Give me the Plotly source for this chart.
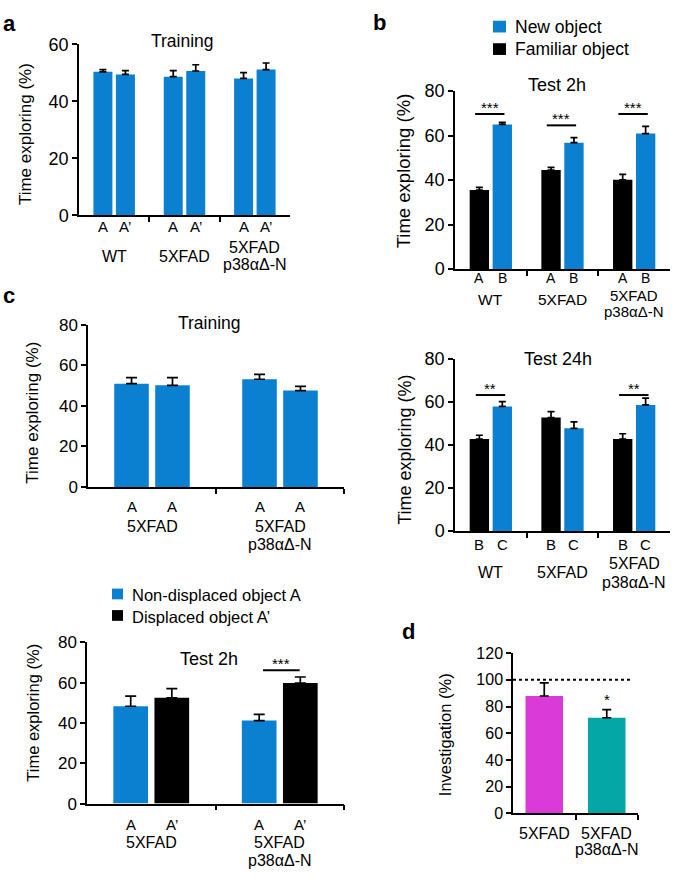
import plotly.graph_objects as go

# ---------------- data ----------------
# panel a (Training, object location)
a_groups = ["WT", "5XFAD", "5XFAD<br>p38αΔ-N"]
a_bar_labels = ["A", "A’"]
a_A = [50.3, 48.6, 48.0]
a_A_err = [0.8, 2.1, 2.0]
a_Ap = [49.4, 50.6, 51.1]
a_Ap_err = [1.3, 2.2, 2.3]

# panel b (Test 2h)
b2_groups = ["WT", "5XFAD", "5XFAD<br>p38αΔ-N"]
b2_bar_labels = ["A", "B"]
b2_familiar = [35.5, 44.5, 40.1]
b2_familiar_err = [1.2, 1.2, 2.5]
b2_new = [65.0, 56.8, 60.9]
b2_new_err = [0.9, 2.3, 3.2]
b2_sig = ["***", "***", "***"]
b2_sig_y = [69.7, 64.6, 69.7]

# panel b (Test 24h)
b24_groups = ["WT", "5XFAD", "5XFAD<br>p38αΔ-N"]
b24_bar_labels = ["B", "C"]
b24_familiar = [42.7, 52.7, 42.7]
b24_familiar_err = [1.8, 2.8, 2.5]
b24_new = [57.9, 47.7, 58.6]
b24_new_err = [2.2, 3.0, 3.2]
b24_sig = ["**", "", "**"]
b24_sig_y = [63.2, None, 63.2]

# panel c (Training)
ct_groups = ["5XFAD", "5XFAD<br>p38αΔ-N"]
ct_bar_labels = ["A", "A"]
ct_first = [50.9, 53.1]
ct_first_err = [3.0, 2.4]
ct_second = [50.1, 47.5]
ct_second_err = [3.8, 2.1]

# panel c (Test 2h)
cs_groups = ["5XFAD", "5XFAD<br>p38αΔ-N"]
cs_bar_labels = ["A", "A’"]
cs_nondisplaced = [48.3, 41.2]
cs_nondisplaced_err = [5.0, 3.1]
cs_displaced = [52.5, 59.8]
cs_displaced_err = [4.5, 3.0]
cs_sig = ["", "***"]
cs_sig_y = [None, 66.1]

# panel d
d_groups = ["5XFAD", "5XFAD<br>p38αΔ-N"]
d_values = [87.9, 71.6]
d_err = [9.8, 6.1]
d_sig = ["", "*"]
d_reference = 100

# ---------------- style ----------------
W, H = 685, 883
FONT = "Liberation Sans, Arial, Helvetica, sans-serif"
BLUE = "#0b80d0"
BLACK = "#000000"
MAGENTA = "#d93ad8"
TEAL = "#05a6a6"

def X(px):
    return px / W

def Y(py):
    return 1 - py / H

fig = go.Figure()
annotations = []
shapes = []

OFF = 0.16
BW = 0.27


def add_axes(n, xpx, ypx, xrange, yrange, ytickvals, xtickvals, tickfont):
    xa = "xaxis" if n == 1 else f"xaxis{n}"
    ya = "yaxis" if n == 1 else f"yaxis{n}"
    xid = "x" if n == 1 else f"x{n}"
    yid = "y" if n == 1 else f"y{n}"
    fig.update_layout(**{
        xa: dict(domain=[X(xpx[0]), X(xpx[1])], range=xrange, anchor=yid,
                 showline=True, linecolor="black", linewidth=1.5,
                 ticks="outside", ticklen=5, tickwidth=1.5, tickcolor="black",
                 tickvals=xtickvals, showticklabels=False, showgrid=False,
                 zeroline=False, fixedrange=True),
        ya: dict(domain=[Y(ypx[1]), Y(ypx[0])], range=yrange, anchor=xid,
                 showline=True, linecolor="black", linewidth=1.5,
                 ticks="outside", ticklen=5, tickwidth=1.5, tickcolor="black",
                 tickvals=ytickvals, showgrid=False, zeroline=False,
                 tickfont=dict(family=FONT, size=tickfont, color="black"),
                 fixedrange=True),
    })
    return xid, yid


def bar(xid, yid, xs, ys, errs, color, name, width=BW, capw=3.5):
    fig.add_trace(go.Bar(
        x=xs, y=ys, width=width, marker=dict(color=color, line=dict(width=0)),
        error_y=dict(type="data", array=errs, arrayminus=[0] * len(errs),
                     symmetric=False, color="black", thickness=1.7, width=capw),
        xaxis=xid, yaxis=yid, name=name, showlegend=False))


def text(x, y, t, size, xref="paper", yref="paper", xanchor="center",
         yanchor="middle", angle=0, bold=False, align="center"):
    annotations.append(dict(
        x=x, y=y, xref=xref, yref=yref, text=f"<b>{t}</b>" if bold else t,
        showarrow=False, xanchor=xanchor, yanchor=yanchor, textangle=angle,
        align=align, font=dict(family=FONT, size=size, color="black")))


def group_name(xid, g, name, y_center, spacing, size, centered):
    lines = name.split("<br>")
    first = y_center - (len(lines) - 1) * spacing / 2 if centered else y_center
    for i, ln in enumerate(lines):
        text(g, Y(first + i * spacing), ln, size, xref=xid)


def grouped_labels(xid, groups, bar_labels, lab_y, grp_y, lab_size, grp_size,
                   spacing=17, centered=True):
    for g, gname in enumerate(groups):
        text(g - OFF, Y(lab_y), bar_labels[0], lab_size, xref=xid)
        text(g + OFF, Y(lab_y), bar_labels[1], lab_size, xref=xid)
        group_name(xid, g, gname, grp_y, spacing, grp_size, centered)


def sig_lines(xid, yid, sigs, ys, lo, hi, star_size=15):
    for g, (s, yv) in enumerate(zip(sigs, ys)):
        if not s:
            continue
        shapes.append(dict(type="line", xref=xid, yref=yid, x0=g + lo, x1=g + hi,
                           y0=yv, y1=yv, line=dict(color="black", width=2)))
        annotations.append(dict(x=g + (lo + hi) / 2, y=yv, xref=xid, yref=yid,
                                text=s, showarrow=False, yanchor="bottom", yshift=-4,
                                font=dict(family=FONT, size=star_size, color="black")))


# ---- panel a ----
xa, ya = add_axes(1, (79, 290), (35, 210), [-0.5, 2.5], [0, 60], [0, 20, 40, 60], [0.5, 1.5], 18)
gi = list(range(len(a_groups)))
bar(xa, ya, [g - OFF for g in gi], a_A, a_A_err, BLUE, "A")
bar(xa, ya, [g + OFF for g in gi], a_Ap, a_Ap_err, BLUE, "A’")
grouped_labels(xa, a_groups, a_bar_labels, 222, 252, 15, 16, spacing=17)
text(X(183), Y(32), "Training", 17.5)
text(X(25), Y(127), "Time exploring (%)", 17, angle=-90)
text(X(1), Y(14), "a", 22, xanchor="left", bold=True)

# ---- panel b Test 2h ----
xb, yb = add_axes(2, (455, 670), (83, 265), [-0.5, 2.5], [0, 80], [0, 20, 40, 60, 80], [0.5, 1.5], 18)
gi = list(range(len(b2_groups)))
bar(xb, yb, [g - OFF for g in gi], b2_familiar, b2_familiar_err, BLACK, "Familiar object")
bar(xb, yb, [g + OFF for g in gi], b2_new, b2_new_err, BLUE, "New object")
sig_lines(xb, yb, b2_sig, b2_sig_y, -0.22, 0.19)
for g, gname in enumerate(b2_groups):
    text(g - OFF, Y(274), b2_bar_labels[0], 14, xref=xb)
    text(g + OFF, Y(274), b2_bar_labels[1], 14, xref=xb)
    if "<br>" in gname:
        group_name(xb, g, gname, 292, 16, 15, centered=False)
    else:
        text(g, Y(296), gname, 15.5, xref=xb)
text(X(557), Y(77), "Test 2h", 18)
text(X(403), Y(165), "Time exploring (%)", 18.5, angle=-90)
text(X(371), Y(13), "b", 22, xanchor="left", bold=True)

# legend b
shapes.append(dict(type="rect", xref="paper", yref="paper", x0=X(493), x1=X(506),
                   y0=Y(23), y1=Y(11), fillcolor=BLUE, line=dict(width=0)))
shapes.append(dict(type="rect", xref="paper", yref="paper", x0=X(493), x1=X(506),
                   y0=Y(46), y1=Y(34), fillcolor=BLACK, line=dict(width=0)))
text(X(513), Y(17), "New object", 17.5, xanchor="left")
text(X(513), Y(40), "Familiar object", 17.5, xanchor="left")

# ---- panel c Training ----
xc, yc = add_axes(3, (88, 344), (322, 488), [-0.5, 1.5], [0, 80], [0, 20, 40, 60, 80], [0.5, 1.5], 17)
gi = list(range(len(ct_groups)))
bar(xc, yc, [g - OFF for g in gi], ct_first, ct_first_err, BLUE, "A", capw=5.5)
bar(xc, yc, [g + OFF for g in gi], ct_second, ct_second_err, BLUE, "A", capw=5.5)
grouped_labels(xc, ct_groups, ct_bar_labels, 508, 528, 15, 16, spacing=19, centered=False)
text(X(209), Y(320), "Training", 17.5)
text(X(33), Y(412), "Time exploring (%)", 17, angle=-90)
text(X(1), Y(292), "c", 22, xanchor="left", bold=True)

# ---- panel b Test 24h ----
xd, yd = add_axes(4, (455, 670), (357, 533), [-0.5, 2.5], [0, 80], [0, 20, 40, 60, 80], [0.5, 1.5], 18)
gi = list(range(len(b24_groups)))
bar(xd, yd, [g - OFF for g in gi], b24_familiar, b24_familiar_err, BLACK, "Familiar object")
bar(xd, yd, [g + OFF for g in gi], b24_new, b24_new_err, BLUE, "New object")
sig_lines(xd, yd, b24_sig, b24_sig_y, -0.21, 0.2)
grouped_labels(xd, b24_groups, b24_bar_labels, 547, 576, 15, 16, spacing=19)
text(X(558), Y(357), "Test 24h", 18)
text(X(405), Y(450), "Time exploring (%)", 18, angle=-90)

# ---- panel c Test 2h ----
xe, ye = add_axes(5, (87, 344), (647, 812), [-0.5, 1.5], [0, 80], [0, 20, 40, 60, 80], [0.5, 1.5], 17)
gi = list(range(len(cs_groups)))
bar(xe, ye, [g - OFF for g in gi], cs_nondisplaced, cs_nondisplaced_err, BLUE,
    "Non-displaced object A", capw=5.5)
bar(xe, ye, [g + OFF for g in gi], cs_displaced, cs_displaced_err, BLACK,
    "Displaced object A’", capw=5.5)
sig_lines(xe, ye, cs_sig, cs_sig_y, -0.13, 0.155)
grouped_labels(xe, cs_groups, cs_bar_labels, 833, 852, 15, 16, spacing=18, centered=False)
text(X(209), Y(664), "Test 2h", 18)
text(X(33), Y(719), "Time exploring (%)", 16.5, angle=-90)

# legend c
shapes.append(dict(type="rect", xref="paper", yref="paper", x0=X(112), x1=X(123),
                   y0=Y(603), y1=Y(592), fillcolor=BLUE, line=dict(width=0)))
shapes.append(dict(type="rect", xref="paper", yref="paper", x0=X(112), x1=X(123),
                   y0=Y(625), y1=Y(614), fillcolor=BLACK, line=dict(width=0)))
text(X(130), Y(599), "Non-displaced object A", 16.5, xanchor="left")
text(X(130), Y(621), "Displaced object A’", 16.5, xanchor="left")

# ---- panel d ----
xf, yf = add_axes(6, (513, 638), (658, 822), [-0.5, 1.5], [0, 120],
                  [0, 20, 40, 60, 80, 100, 120], [0.5, 1.5], 16)
fig.add_trace(go.Bar(
    x=list(range(len(d_groups))), y=d_values, width=0.6,
    marker=dict(color=[MAGENTA, TEAL], line=dict(width=0)),
    error_y=dict(type="data", array=d_err, arrayminus=[0] * len(d_err),
                 symmetric=False, color="black", thickness=1.7, width=4.5),
    xaxis=xf, yaxis=yf, showlegend=False, name="Investigation"))
shapes.append(dict(type="line", xref=xf, yref=yf, x0=-0.5, x1=1.4,
                   y0=d_reference, y1=d_reference,
                   line=dict(color="black", width=2, dash="dot")))
for g, s in enumerate(d_sig):
    if s:
        annotations.append(dict(x=g, y=d_values[g] + d_err[g], xref=xf, yref=yf,
                                text=s, showarrow=False, yanchor="bottom", yshift=0,
                                font=dict(family=FONT, size=15, color="black")))
for g, gname in enumerate(d_groups):
    group_name(xf, g, gname, 843, 16, 16, centered=False)
text(X(445), Y(742), "Investigation (%)", 16.5, angle=-90)
text(X(400), Y(636), "d", 22, xanchor="left", bold=True)

fig.update_layout(
    width=W, height=H, margin=dict(l=0, r=0, t=0, b=0),
    paper_bgcolor="white", plot_bgcolor="white",
    font=dict(family=FONT, color="black"),
    annotations=annotations, shapes=shapes, barmode="overlay",
    showlegend=False,
)

POST = (
    "document.documentElement.style.margin='0';"
    "document.documentElement.style.padding='0';"
    "document.documentElement.style.overflow='hidden';"
    "document.body.style.margin='0';"
    "document.body.style.padding='0';"
    "document.body.style.overflow='hidden';"
    "var gd=document.getElementById('{plot_id}');"
    "gd.style.position='absolute';gd.style.left='0px';gd.style.top='0px';"
)
fig.write_html("out.html", config={"displayModeBar": False}, post_script=POST)
